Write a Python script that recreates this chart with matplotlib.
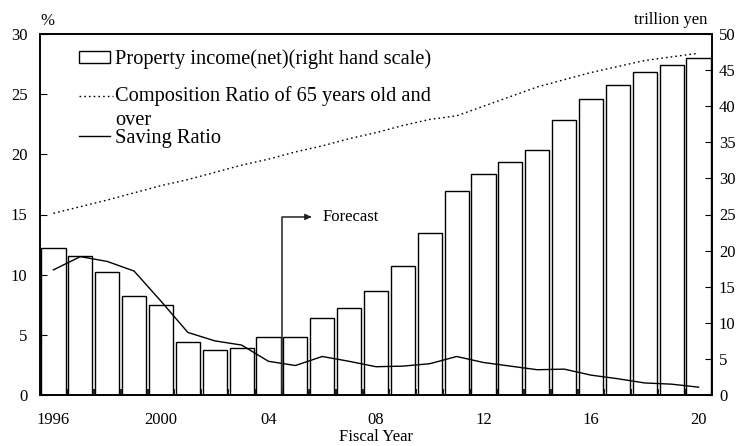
import matplotlib
matplotlib.use("Agg")
import matplotlib.pyplot as plt
from matplotlib.patches import Rectangle
from matplotlib.lines import Line2D
import numpy as np

plt.rcParams['font.family'] = ['Liberation Serif', 'DejaVu Serif']

years = list(range(1996, 2021))
tick_labels = ["1996", "2000", "04", "08", "12", "16", "20"]
property_income = [20.4, 19.2, 17.0, 13.7, 12.5, 7.4, 6.3, 6.5, 8.1, 8.1, 10.7, 12.1, 14.4,
                   17.9, 22.5, 28.3, 30.6, 32.3, 33.9, 38.1, 41.0, 43.0, 44.7, 45.7, 46.7]
composition_ratio = [15.1, 15.65, 16.2, 16.8, 17.4, 17.9, 18.5, 19.1, 19.6, 20.2, 20.7, 21.3, 21.8,
                     22.4, 22.9, 23.2, 24.0, 24.8, 25.6, 26.2, 26.8, 27.3, 27.8, 28.1, 28.4]
saving_ratio = [10.4, 11.5, 11.1, 10.3, 7.8, 5.2, 4.5, 4.15, 2.8, 2.45, 3.2, 2.8, 2.35,
                2.4, 2.6, 3.2, 2.7, 2.4, 2.1, 2.15, 1.65, 1.35, 1.0, 0.9, 0.65]
forecast_start = 2004.5
forecast_level = 14.8

W, H = 745, 446
fig = plt.figure(figsize=(W / 100, H / 100), dpi=100)
ax = fig.add_axes([40 / W, 1 - 395 / H, (712 - 40) / W, (395 - 34) / H])
ax2 = ax.twinx()

x = np.arange(len(years))
ax2.bar(x, property_income, width=0.9, facecolor='white', edgecolor='black', linewidth=1.0)
ax2.set_ylim(0, 50)
ax2.set_yticks(range(0, 51, 5))

ax.set_zorder(ax2.get_zorder() + 1)
ax.patch.set_visible(False)

ax.plot(x, composition_ratio, color='black', linestyle=(0, (1.2, 2.2)), linewidth=1.0)
ax.plot(x, saving_ratio, color='black', linewidth=1.0)

ax.set_xlim(-0.5, len(years) - 0.5)
ax.set_ylim(0, 30)
ax.set_yticks(range(0, 31, 5))

idx = [years.index(1996 + 4 * k) for k in range(len(tick_labels))]
ax.set_xticks(idx)
ax.set_xticklabels(tick_labels)
ax.set_xticks(np.arange(0.5, len(years) - 0.5, 1), minor=True)
ax.tick_params(axis='x', which='major', length=0, pad=12, labelsize=12)
ax.tick_params(axis='x', which='minor', length=4, direction='in', width=1.2)
ax.tick_params(axis='y', direction='in', length=5, pad=9, labelsize=12)
ax2.tick_params(axis='y', direction='in', length=5, pad=5, labelsize=12)

for a in (ax, ax2):
    for s in a.spines.values():
        s.set_linewidth(1.2)

# Forecast marker
fx = years.index(int(forecast_start)) + (forecast_start - int(forecast_start))
ax.plot([fx, fx, fx + 1.0], [0, forecast_level, forecast_level], color='#333333', linewidth=1.2)
ax.annotate('', xy=(fx + 1.2, forecast_level), xytext=(fx + 0.9, forecast_level),
            arrowprops=dict(arrowstyle='-|>', color='#222222', lw=1.0, mutation_scale=9))
ax.text(fx + 1.5, forecast_level, 'Forecast', fontsize=12, va='center', ha='left')

ax.set_xlabel('Fiscal Year', fontsize=12, labelpad=1)

# axis unit labels
fig.text(47 / W, 1 - 21 / H, '%', fontsize=12, ha='center', va='center')
fig.text(707 / W, 1 - 20 / H, 'trillion yen', fontsize=12, ha='right', va='center')

# manual legend
fs = 14.7
fig.patches.append(Rectangle((79 / W, 1 - 63 / H), 31 / W, 12 / H, transform=fig.transFigure,
                             facecolor='white', edgecolor='black', linewidth=1.0))
fig.text(115 / W, 1 - 64 / H, 'Property income(net)(right hand scale)', fontsize=fs, va='baseline')
fig.lines.append(Line2D([79 / W, 113 / W], [1 - 96 / H, 1 - 96 / H], transform=fig.transFigure,
                        color='black', linestyle=(0, (1.2, 2.2)), linewidth=1.0))
fig.text(115 / W, 1 - 101 / H, 'Composition Ratio of 65 years old and', fontsize=fs, va='baseline')
fig.text(115 / W, 1 - 125 / H, 'over', fontsize=fs, va='baseline')
fig.lines.append(Line2D([79 / W, 110 / W], [1 - 136 / H, 1 - 136 / H], transform=fig.transFigure,
                        color='black', linewidth=1.0))
fig.text(115 / W, 1 - 143 / H, 'Saving Ratio', fontsize=fs, va='baseline')

fig.savefig('out.png', dpi=100)
